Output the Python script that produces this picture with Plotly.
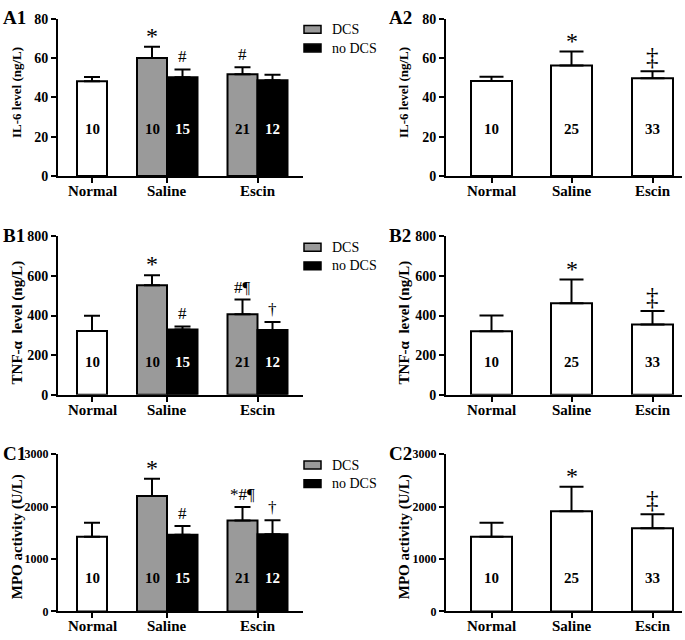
import plotly.graph_objects as go

W, H = 685, 640
FONT = "Liberation Serif"

group_labels = ["Normal", "Saline", "Escin"]
series_names = ["DCS", "no DCS"]

# Left column: Normal, Saline-DCS, Saline-noDCS, Escin-DCS, Escin-noDCS
il6_split = [48.2, 60.0, 50.2, 51.7, 48.7]
il6_split_sd = [2.1, 5.7, 4.0, 3.6, 2.8]
tnf_split = [322, 553, 330, 407, 327]
tnf_split_sd = [77, 51, 15, 74, 41]
mpo_split = [1425, 2203, 1463, 1736, 1475]
mpo_split_sd = [268, 330, 168, 256, 268]
n_split = [10, 10, 15, 21, 12]
sig_il6_split = ["", "*", "#", "#", ""]
sig_tnf_split = ["", "*", "#", "#¶", "†"]
sig_mpo_split = ["", "*", "#", "*#¶", "†"]

# Right column: Normal, Saline, Escin (pooled)
il6_pooled = [48.3, 56.2, 49.7]
il6_pooled_sd = [2.2, 7.1, 3.6]
tnf_pooled = [321, 463, 355]
tnf_pooled_sd = [79, 119, 68]
mpo_pooled = [1425, 1911, 1587]
mpo_pooled_sd = [268, 467, 268]
n_pooled = [10, 25, 33]
sig_pooled = ["", "*", "‡"]

y_titles = ["IL-6 level (ng/L)", "TNF-α  level (ng/L)", "MPO activity (U/L)"]
y_max = [80, 800, 3000]
y_dtick = [20, 200, 1000]
panel_names = [("A1", "A2"), ("B1", "B2"), ("C1", "C2")]

# ---------- layout geometry (pixels) ----------
col_px = [(58, 303), (446, 682)]
row_px = [(12, 173), (235, 397), (458, 619)]
title_cy = [88, 323, 543]
title_size = [13, 15, 15]
ytick_size = [14, 14, 12]
x1_pos = [34, 94, 124.5, 184.5, 214.5]
x1_ticks = [34, 109.25, 199.5]
x1_width = 30
x2_pos = [45.5, 125.5, 206.5]
x2_width = 41
n_label_y = [24, 167, 648]

GRAY = "#9a9a9a"

def px_x(p):
    return p / W

def px_y(p):
    return 1 - p / H

fig = go.Figure()
annotations = []
shapes = []

split_data = [(il6_split, il6_split_sd, sig_il6_split),
              (tnf_split, tnf_split_sd, sig_tnf_split),
              (mpo_split, mpo_split_sd, sig_mpo_split)]
pooled_data = [(il6_pooled, il6_pooled_sd),
               (tnf_pooled, tnf_pooled_sd),
               (mpo_pooled, mpo_pooled_sd)]

layout_axes = {}
ax = 0
for r in range(3):
    for c in range(2):
        ax += 1
        xa = "x" if ax == 1 else f"x{ax}"
        ya = "y" if ax == 1 else f"y{ax}"
        xkey = "xaxis" if ax == 1 else f"xaxis{ax}"
        ykey = "yaxis" if ax == 1 else f"yaxis{ax}"
        x0, x1 = col_px[c]
        t, b = row_px[r]
        if c == 0:
            vals, sds, sigs = split_data[r]
            groups = [([0], "white", "black"), ([1, 3], GRAY, "black"), ([2, 4], "black", "white")]
            pos, width = x1_pos, x1_width
            ticks = x1_ticks
            cap = 8
            nlab = n_split
        else:
            vals, sds = pooled_data[r]
            sigs = sig_pooled
            groups = [([0, 1, 2], "white", "black")]
            pos, width = x2_pos, x2_width
            ticks = x2_pos
            cap = 12
            nlab = n_pooled
        for idx, color, tcolor in groups:
            fig.add_trace(go.Bar(
                x=[pos[i] for i in idx], y=[vals[i] for i in idx],
                width=width, marker=dict(color=color, line=dict(color="black", width=2)),
                error_y=dict(type="data", symmetric=False,
                             array=[sds[i] for i in idx], arrayminus=[0] * len(idx),
                             color="black", thickness=2, width=cap),
                xaxis=xa, yaxis=ya, showlegend=False, hoverinfo="skip"))
            for i in idx:
                annotations.append(dict(x=pos[i], y=n_label_y[r], xref=xa, yref=ya,
                                        text=f"<b>{nlab[i]}</b>", showarrow=False,
                                        xanchor="center", yanchor="middle",
                                        font=dict(family=FONT, size=15, color=tcolor)))
        for i, s in enumerate(sigs):
            if not s:
                continue
            if s == "*":
                size, shift = 24, -4
            elif s == "‡":
                size, shift = 25, -1
            else:
                size, shift = 17, 1
            annotations.append(dict(x=pos[i], y=vals[i] + sds[i], xref=xa, yref=ya,
                                    text=s, showarrow=False, xanchor="center",
                                    yanchor="bottom", yshift=shift,
                                    font=dict(family=FONT, size=size, color="black")))
        # category labels under the x axis
        for tv, lab in zip(ticks, group_labels):
            annotations.append(dict(x=tv, y=0, xref=xa, yref=f"{ya} domain",
                                    text=f"<b>{lab}</b>", showarrow=False,
                                    xanchor="center", yanchor="middle", yshift=-15,
                                    font=dict(family=FONT, size=15, color="black")))
        layout_axes[xkey] = dict(domain=[px_x(x0), px_x(x1)], range=[0, x1 - x0], anchor=ya,
                                 showline=True, linecolor="black", linewidth=2,
                                 ticks="outside", ticklen=5, tickwidth=2, tickcolor="black",
                                 tickvals=ticks, showticklabels=False, showgrid=False,
                                 zeroline=False, fixedrange=True)
        layout_axes[ykey] = dict(domain=[px_y(b), px_y(t)], range=[0, y_max[r]], anchor=xa,
                                 showline=True, linecolor="black", linewidth=2,
                                 ticks="outside", ticklen=5, tickwidth=2, tickcolor="black",
                                 dtick=y_dtick[r], showgrid=False, zeroline=False,
                                 fixedrange=True,
                                 tickfont=dict(family=FONT, size=ytick_size[r], color="black",
                                               weight="bold"))
        # y title
        annotations.append(dict(x=px_x(17 if c == 0 else 404), y=px_y(title_cy[r]),
                                xref="paper", yref="paper", text=f"<b>{y_titles[r]}</b>",
                                textangle=-90, showarrow=False,
                                xanchor="center", yanchor="middle",
                                font=dict(family=FONT, size=title_size[r], color="black")))
        # panel label
        annotations.append(dict(x=px_x(1 if c == 0 else 387), y=px_y(t - 1),
                                xref="paper", yref="paper", text=f"<b>{panel_names[r][c]}</b>",
                                xanchor="left", yanchor="middle", showarrow=False,
                                font=dict(family=FONT, size=19, color="black")))
        # legend for left column
        if c == 0:
            for k, (nm, colr) in enumerate(zip(series_names, [GRAY, "black"])):
                cy = t + 11 + 19 * k
                shapes.append(dict(type="rect", xref="paper", yref="paper",
                                   x0=px_x(304), x1=px_x(321), y0=px_y(cy - 4), y1=px_y(cy + 4),
                                   fillcolor=colr, line=dict(color="black", width=1.5)))
                annotations.append(dict(x=px_x(330), y=px_y(cy), xref="paper", yref="paper",
                                        text=nm, xanchor="left", yanchor="middle",
                                        showarrow=False,
                                        font=dict(family=FONT, size=14, color="black")))

fig.update_layout(width=W, height=H, margin=dict(l=0, r=0, t=0, b=0),
                  paper_bgcolor="white", plot_bgcolor="white", barmode="overlay",
                  annotations=annotations, shapes=shapes, showlegend=False,
                  **layout_axes)
fig.write_html("out.html", config={"displayModeBar": False},
               post_script="document.body.style.margin='0';document.body.style.overflow='hidden';")
